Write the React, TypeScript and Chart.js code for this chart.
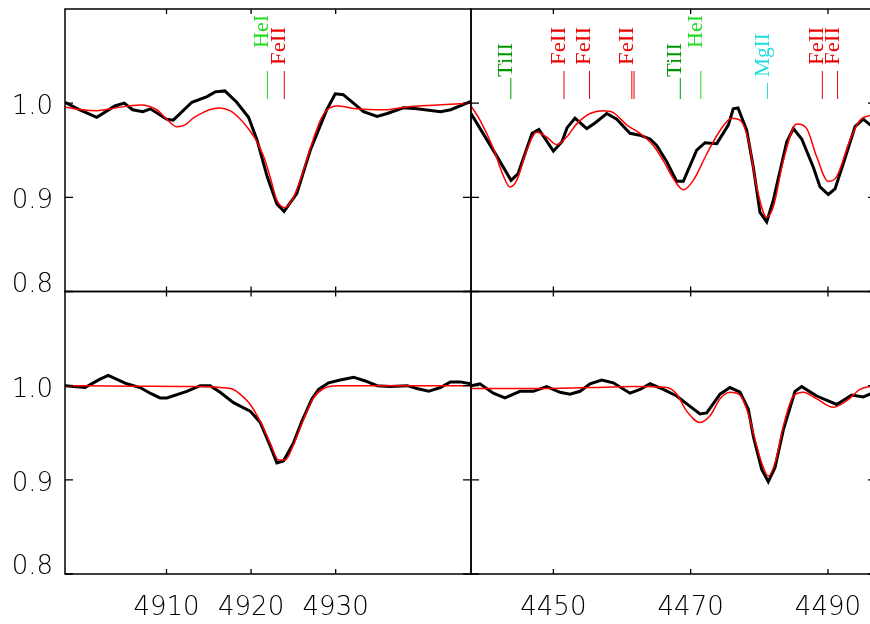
import React, { useEffect, useRef } from "react";
import { Chart, registerables } from "chart.js";

Chart.register(...registerables);

// ---------------- data ----------------
// y axis (normalised flux)
const yTicks = [0.8, 0.9, 1.0];
const yMin = 0.8;
const yMax = 1.1;

// left column: He I 4922 region
const leftXTicks = [4910, 4920, 4930];
const leftXMin = 4898;
const leftXMax = 4946;
// right column: Mg II 4481 region
const rightXTicks = [4450, 4470, 4490];
const rightXMin = 4438;
const rightXMax = 4497;

// top-left observed
const tlObsWave = [4898.0, 4899.5, 4901.75, 4903.9, 4905.0, 4906.0, 4907.2, 4908.1, 4910.0, 4910.8, 4913.0, 4914.8, 4915.75, 4916.9, 4918.3, 4919.7, 4920.7, 4921.9, 4923.05, 4923.9, 4925.4, 4927.0, 4928.95, 4929.95, 4930.9, 4933.3, 4934.9, 4936.1, 4938.0, 4939.6, 4942.4, 4943.6, 4945.5, 4946.0];
const tlObsFlux = [1.001, 0.994, 0.985, 0.997, 1.0, 0.993, 0.991, 0.994, 0.983, 0.982, 1.001, 1.007, 1.012, 1.013, 1.001, 0.985, 0.961, 0.922, 0.893, 0.885, 0.904, 0.95, 0.993, 1.01, 1.009, 0.991, 0.986, 0.989, 0.995, 0.994, 0.991, 0.993, 1.0, 1.002];
// top-left model
const tlModWave = [4898.0, 4900.0, 4901.75, 4904.0, 4906.9, 4908.85, 4910.0, 4911.2, 4912.2, 4913.15, 4914.3, 4915.5, 4916.3, 4917.5, 4918.5, 4919.5, 4920.5, 4921.5, 4922.3, 4923.05, 4924.0, 4924.9, 4925.8, 4926.7, 4927.6, 4928.3, 4929.0, 4930.15, 4932.5, 4935.7, 4938.4, 4942.0, 4946.0];
const tlModFlux = [0.996, 0.993, 0.992, 0.995, 0.998, 0.993, 0.983, 0.975, 0.977, 0.984, 0.99, 0.994, 0.995, 0.992, 0.985, 0.975, 0.962, 0.943, 0.92, 0.897, 0.889, 0.898, 0.918, 0.943, 0.968, 0.984, 0.993, 0.997, 0.994, 0.993, 0.996, 0.998, 1.0];

// top-right observed
const trObsWave = [4438.0, 4441.74, 4443.83, 4444.85, 4446.9, 4447.9, 4450.0, 4451.25, 4452.0, 4453.15, 4454.86, 4456.07, 4457.77, 4459.23, 4461.16, 4462.6, 4464.08, 4465.05, 4466.5, 4467.97, 4468.93, 4470.88, 4472.09, 4473.8, 4475.5, 4476.2, 4476.9, 4478.17, 4479.13, 4480.1, 4481.08, 4482.04, 4484.0, 4484.96, 4486.18, 4487.87, 4488.85, 4490.05, 4491.03, 4492.24, 4493.94, 4495.15, 4496.13, 4497.0];
const trObsFlux = [0.989, 0.944, 0.918, 0.925, 0.968, 0.972, 0.949, 0.959, 0.974, 0.984, 0.973, 0.979, 0.989, 0.983, 0.968, 0.966, 0.962, 0.955, 0.938, 0.917, 0.917, 0.95, 0.958, 0.957, 0.977, 0.994, 0.995, 0.971, 0.932, 0.884, 0.874, 0.897, 0.959, 0.973, 0.962, 0.932, 0.911, 0.903, 0.909, 0.936, 0.975, 0.983, 0.977, 0.974];
// top-right model
const trModWave = [4438.0, 4439.31, 4441.25, 4442.7, 4443.68, 4444.66, 4446.11, 4447.57, 4449.03, 4450.49, 4451.94, 4453.4, 4455.34, 4457.27, 4458.73, 4460.68, 4462.62, 4464.56, 4466.0, 4467.47, 4468.93, 4470.39, 4472.34, 4474.28, 4475.98, 4477.19, 4478.4, 4479.62, 4481.08, 4482.04, 4483.5, 4485.45, 4486.91, 4488.36, 4490.05, 4491.28, 4493.22, 4494.67, 4496.13, 4497.0];
const trModFlux = [0.997, 0.982, 0.952, 0.923, 0.911, 0.918, 0.95, 0.969, 0.964, 0.956, 0.964, 0.978, 0.989, 0.992, 0.99, 0.977, 0.968, 0.955, 0.939, 0.92, 0.908, 0.918, 0.946, 0.971, 0.984, 0.982, 0.961, 0.911, 0.879, 0.89, 0.939, 0.978, 0.973, 0.943, 0.917, 0.922, 0.961, 0.982, 0.987, 0.989];

// bottom-left observed
const blObsWave = [4898.0, 4900.37, 4902.14, 4903.12, 4905.3, 4906.88, 4908.06, 4909.24, 4910.04, 4912.4, 4913.98, 4915.16, 4916.34, 4917.92, 4919.89, 4921.08, 4922.26, 4923.05, 4923.83, 4925.0, 4926.0, 4927.2, 4927.98, 4929.16, 4930.54, 4932.12, 4933.5, 4934.89, 4936.46, 4938.44, 4939.62, 4940.99, 4942.38, 4943.56, 4944.75, 4945.93];
const blObsFlux = [1.0, 0.998, 1.007, 1.011, 1.002, 0.998, 0.992, 0.987, 0.987, 0.994, 1.0, 1.0, 0.993, 0.982, 0.973, 0.961, 0.936, 0.918, 0.92, 0.939, 0.962, 0.986, 0.996, 1.003, 1.006, 1.009, 1.005, 1.0, 0.999, 1.0, 0.997, 0.994, 0.998, 1.004, 1.004, 1.002];
// bottom-left model
const blModWave = [4898.0, 4906.0, 4914.0, 4916.3, 4917.9, 4918.7, 4919.9, 4921.08, 4922.26, 4923.25, 4924.04, 4925.0, 4926.2, 4927.38, 4928.57, 4930.15, 4938.0, 4946.0];
const blModFlux = [1.0, 0.9995, 0.999, 0.998, 0.996, 0.991, 0.98, 0.962, 0.939, 0.921, 0.921, 0.937, 0.964, 0.987, 0.997, 1.0, 1.0, 1.0];

// bottom-right observed
const brObsWave = [4438.0, 4439.31, 4441.25, 4442.95, 4445.14, 4447.08, 4449.03, 4450.97, 4452.42, 4453.88, 4455.34, 4457.04, 4458.73, 4461.16, 4462.62, 4464.08, 4466.02, 4467.97, 4469.91, 4471.36, 4472.34, 4474.28, 4475.73, 4477.19, 4478.4, 4479.13, 4480.35, 4481.31, 4482.29, 4483.5, 4485.2, 4486.18, 4488.36, 4491.28, 4493.46, 4495.15, 4496.13, 4497.0];
const brObsFlux = [1.0, 1.002, 0.992, 0.987, 0.994, 0.994, 0.999, 0.993, 0.991, 0.994, 1.002, 1.006, 1.003, 0.992, 0.996, 1.002, 0.996, 0.989, 0.978, 0.97, 0.971, 0.991, 0.998, 0.993, 0.975, 0.946, 0.911, 0.898, 0.913, 0.953, 0.994, 0.999, 0.989, 0.98, 0.99, 0.988, 0.991, 0.99];
// bottom-right model
const brModWave = [4438.0, 4447.08, 4455.0, 4461.65, 4466.51, 4467.97, 4469.42, 4471.36, 4472.82, 4474.28, 4475.73, 4477.19, 4478.17, 4479.38, 4480.35, 4481.31, 4482.29, 4483.5, 4484.96, 4486.42, 4488.36, 4490.8, 4492.75, 4494.67, 4496.13, 4497.0];
const brModFlux = [0.997, 0.997, 0.998, 0.999, 0.998, 0.991, 0.973, 0.961, 0.968, 0.986, 0.993, 0.99, 0.975, 0.943, 0.918, 0.904, 0.918, 0.957, 0.989, 0.993, 0.986, 0.977, 0.984, 0.996, 0.999, 1.0];

// line identifications
const leftLineIons = ["HeI", "FeII"];
const leftLineWaves = [4921.93, 4923.93];
const rightLineIons = ["TiII", "FeII", "FeII", "FeII", "FeII", "TiII", "HeI", "MgII", "FeII", "FeII"];
const rightLineWaves = [4443.8, 4451.55, 4455.26, 4461.43, 4461.75, 4468.49, 4471.48, 4481.2, 4489.18, 4491.4];

// ---------------- styles ----------------
// textBottom / textTop: pixel offsets (from panel top) of the start and end of each rotated label
const ionStyle: Record<string, { color: string; textBottom: number; textTop: number; lineTop: number }> = {
  HeI: { color: "#1fdc1f", textBottom: 39, textTop: 6, lineTop: 62 },
  FeII: { color: "#ee0000", textBottom: 56, textTop: 18, lineTop: 62 },
  TiII: { color: "#009600", textBottom: 68, textTop: 34, lineTop: 69 },
  MgII: { color: "#1ddcdc", textBottom: 68, textTop: 24, lineTop: 74 },
};
const markerBottom = 90;
const axisFont = "200 26px 'DejaVu Sans', sans-serif";
const idFontFamily = "'Liberation Serif', 'Times New Roman', serif";
const idFontSize = 22;

const CANVAS_W = 880;
const CANVAS_H = 624;

const zip = (w: number[], f: number[]) => w.map((x, i) => ({ x, y: f[i] }));

const framePlugin = {
  id: "panelFrame",
  afterDatasetsDraw(chart: any) {
    const o = chart.options.plugins.panelFrame;
    const { ctx } = chart;
    const { left, right, top, bottom } = chart.chartArea;
    const xs = chart.scales.x;
    const ys = chart.scales.y;
    ctx.save();
    // frame
    ctx.strokeStyle = "#000";
    ctx.lineWidth = 1.5;
    ctx.strokeRect(left, top, right - left, bottom - top);
    // ticks
    ctx.lineWidth = 1.3;
    ctx.beginPath();
    for (const v of o.xTicks) {
      const px = xs.getPixelForValue(v);
      ctx.moveTo(px, bottom);
      ctx.lineTo(px, bottom - 5);
      ctx.moveTo(px, top);
      ctx.lineTo(px, top + 5);
    }
    for (const v of yTicks) {
      const py = ys.getPixelForValue(v);
      ctx.moveTo(left, py);
      ctx.lineTo(left + 8, py);
      ctx.moveTo(right, py);
      ctx.lineTo(right - 8, py);
    }
    ctx.stroke();
    // labels
    ctx.fillStyle = "#000";
    ctx.font = axisFont;
    if (o.yLabels) {
      ctx.textAlign = "right";
      ctx.textBaseline = "alphabetic";
      yTicks.forEach((v: number, i: number) => {
        const py = ys.getPixelForValue(v);
        const base = i === 0 ? py : py + 11;
        ctx.fillText(v.toFixed(1), left - 12, base);
      });
    }
    if (o.xLabels) {
      ctx.textAlign = "center";
      ctx.textBaseline = "alphabetic";
      for (const v of o.xTicks) {
        ctx.fillText(String(v), xs.getPixelForValue(v), bottom + 41);
      }
    }
    // line identifications
    if (o.ions) {
      let lastPx = -100;
      let lastIon = "";
      o.ions.forEach((ion: string, i: number) => {
        const st = ionStyle[ion];
        const px = xs.getPixelForValue(o.waves[i]);
        ctx.strokeStyle = st.color;
        ctx.fillStyle = st.color;
        ctx.lineWidth = 1;
        ctx.beginPath();
        ctx.moveTo(px, top + st.lineTop);
        ctx.lineTo(px, top + markerBottom);
        ctx.stroke();
        if (!(ion === lastIon && px - lastPx < 4)) {
          ctx.save();
          ctx.font = idFontSize + "px " + idFontFamily;
          ctx.translate(px + 1, top + st.textBottom);
          ctx.rotate(-Math.PI / 2);
          ctx.textAlign = "left";
          ctx.textBaseline = "alphabetic";
          // stretch the label to its measured length in the reference
          const want = st.textBottom - st.textTop;
          const have = ctx.measureText(ion).width || want;
          ctx.scale(want / have, 1);
          ctx.fillText(ion, 0, 0);
          ctx.restore();
        }
        lastPx = px;
        lastIon = ion;
      });
    }
    ctx.restore();
  },
};

type PanelDef = {
  obsW: number[]; obsF: number[]; modW: number[]; modF: number[];
  xMin: number; xMax: number; xTicks: number[];
  xLabels: boolean; yLabels: boolean;
  ions?: string[]; waves?: number[];
  area: [number, number, number, number];
};

const panels: PanelDef[] = [
  { obsW: tlObsWave, obsF: tlObsFlux, modW: tlModWave, modF: tlModFlux, xMin: leftXMin, xMax: leftXMax, xTicks: leftXTicks, xLabels: false, yLabels: true, ions: leftLineIons, waves: leftLineWaves, area: [65, 9, 471, 291.5] },
  { obsW: trObsWave, obsF: trObsFlux, modW: trModWave, modF: trModFlux, xMin: rightXMin, xMax: rightXMax, xTicks: rightXTicks, xLabels: false, yLabels: false, ions: rightLineIons, waves: rightLineWaves, area: [471, 9, 876, 291.5] },
  { obsW: blObsWave, obsF: blObsFlux, modW: blModWave, modF: blModFlux, xMin: leftXMin, xMax: leftXMax, xTicks: leftXTicks, xLabels: true, yLabels: true, area: [65, 291.5, 471, 574] },
  { obsW: brObsWave, obsF: brObsFlux, modW: brModWave, modF: brModFlux, xMin: rightXMin, xMax: rightXMax, xTicks: rightXTicks, xLabels: true, yLabels: false, area: [471, 291.5, 876, 574] },
];

export default function App() {
  const refs = [useRef<HTMLCanvasElement>(null), useRef<HTMLCanvasElement>(null), useRef<HTMLCanvasElement>(null), useRef<HTMLCanvasElement>(null)];

  useEffect(() => {
    const charts = panels.map((p, i) => {
      const canvas = refs[i].current!;
      const [l, t, r, b] = p.area;
      return new Chart(canvas, {
        type: "line",
        data: {
          datasets: [
            {
              data: zip(p.obsW, p.obsF),
              borderColor: "#000",
              borderWidth: 3,
              pointRadius: 0,
              tension: 0,
              fill: false,
              order: 1,
            },
            {
              data: zip(p.modW, p.modF),
              borderColor: "#f00",
              borderWidth: 1.5,
              pointRadius: 0,
              cubicInterpolationMode: "monotone",
              fill: false,
              order: 0,
            },
          ],
        },
        options: {
          animation: false,
          responsive: false,
          maintainAspectRatio: false,
          events: [],
          layout: { padding: { left: l, top: t, right: CANVAS_W - r, bottom: CANVAS_H - b } },
          scales: {
            x: { type: "linear", min: p.xMin, max: p.xMax, display: false },
            y: { type: "linear", min: yMin, max: yMax, display: false },
          },
          plugins: {
            legend: { display: false },
            tooltip: { enabled: false },
            panelFrame: { xTicks: p.xTicks, xLabels: p.xLabels, yLabels: p.yLabels, ions: p.ions, waves: p.waves },
          } as any,
        },
        plugins: [framePlugin],
      } as any);
    });
    return () => charts.forEach((c) => c.destroy());
  }, []);

  return (
    <div style={{ position: "fixed", left: 0, top: 0, width: 870, height: 624, overflow: "hidden", background: "#fff" }}>
      {refs.map((r, i) => (
        <canvas
          key={i}
          ref={r}
          width={CANVAS_W}
          height={CANVAS_H}
          style={{ position: "absolute", left: 0, top: 0, width: CANVAS_W, height: CANVAS_H }}
        />
      ))}
    </div>
  );
}
